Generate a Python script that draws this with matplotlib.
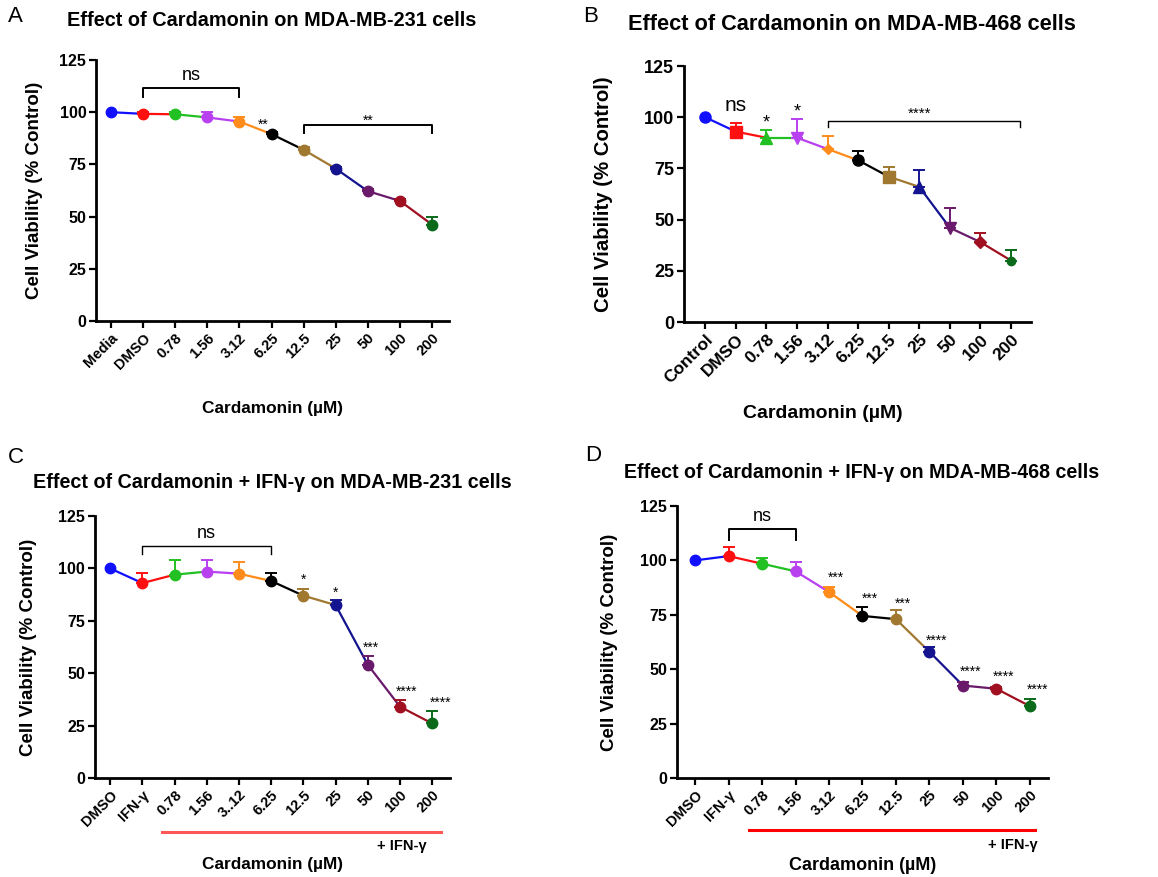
import numpy as np
import matplotlib

matplotlib.use("Agg")
import matplotlib.pyplot as plt

plt.rcParams["font.family"] = ["Liberation Sans", "DejaVu Sans"]

W, H = 1158, 877

# ---- colours shared by all panels (GraphPad style palette) ----
colors = ["#1010FF", "#FF1010", "#22C022", "#B840F0", "#FF8C1A", "#000000",
          "#A07830", "#141490", "#6A1A6A", "#A01020", "#0A6A1A"]

# ---- panel A ----
labels_a = ["Media", "DMSO", "0.78", "1.56", "3.12", "6.25", "12.5", "25", "50", "100", "200"]
mean_a = [100, 99.2, 99, 97.5, 95.5, 89.5, 82, 73, 62.2, 57.5, 46.2]
err_a = [0, 0.8, 1.0, 2.8, 2.2, 0.8, 1.2, 0.8, 0.8, 0.8, 3.8]
markers_a = ["o"] * 11

# ---- panel B ----
labels_b = ["Control", "DMSO", "0.78", "1.56", "3.12", "6.25", "12.5", "25", "50", "100", "200"]
mean_b = [100, 93, 90, 90, 84.5, 79, 71, 66, 46, 39, 30]
err_b = [0, 4, 4, 9, 6.5, 4.5, 4.5, 8, 9.5, 4.5, 5]
markers_b = ["o", "s", "^", "v", "D", "o", "s", "^", "v", "D", "o"]
msize_b = [8, 8, 8, 8, 5, 8, 8, 8, 8, 6, 6]

# ---- panel C ----
labels_c = ["DMSO", "IFN-γ", "0.78", "1.56", "3..12", "6.25", "12.5", "25", "50", "100", "200"]
mean_c = [100, 93, 97, 98.5, 97.5, 94, 87, 82.5, 54, 34, 26]
err_c = [0, 5, 7, 5.5, 5.5, 4, 3, 2.5, 4, 3, 6]
markers_c = ["o"] * 11

# ---- panel D ----
labels_d = ["DMSO", "IFN-γ", "0.78", "1.56", "3.12", "6.25", "12.5", "25", "50", "100", "200"]
mean_d = [100, 102, 98.5, 95, 85.5, 74.5, 73, 58, 42.5, 41, 33]
err_d = [0, 4, 2.5, 4.5, 2.5, 4, 4, 2, 1.5, 1, 3.5]
markers_d = ["o"] * 11


def draw_curve(ax, mean, err, markers, sizes=None):
    x = np.arange(len(mean))
    if sizes is None:
        sizes = [7.5] * len(mean)
    for i in range(len(mean) - 1):
        ax.plot(x[i:i + 2], mean[i:i + 2], color=colors[i], lw=1.6, zorder=2)
    for i in range(len(mean)):
        if err[i] > 0:
            ax.errorbar(x[i], mean[i], yerr=[[0], [err[i]]], color=colors[i],
                        capsize=4, elinewidth=1.4, capthick=1.4, fmt="none", zorder=3)
        ax.plot(x[i], mean[i], marker=markers[i], ms=sizes[i], color=colors[i],
                ls="none", zorder=4)


def style_axes(ax, labels, xlim, xfs=10.5, yfs=11.5, labfs=13.5):
    ax.set_ylim(0, 125)
    ax.set_xlim(*xlim)
    ax.set_yticks([0, 25, 50, 75, 100, 125])
    ax.set_xticks(np.arange(len(labels)))
    ax.set_xticklabels(labels, rotation=45, ha="right", rotation_mode="anchor",
                       fontsize=xfs, fontweight="bold")
    for lab in ax.get_yticklabels():
        lab.set_fontweight("bold")
        lab.set_fontsize(yfs)
    ax.spines["top"].set_visible(False)
    ax.spines["right"].set_visible(False)
    ax.spines["left"].set_linewidth(2)
    ax.spines["bottom"].set_linewidth(2)
    ax.tick_params(width=1.6, length=5, direction="out", pad=2)
    ax.set_ylabel("Cell Viability (% Control)", fontsize=labfs, fontweight="bold")


def bracket(ax, x0, x1, y, drop, lw=1.4):
    ax.plot([x0, x0, x1, x1], [y - drop, y, y, y - drop], color="black", lw=lw,
            clip_on=False)


def ftext(px, py, s, **kw):
    fig.text(px / W, 1 - py / H, s, ha="center", va="center", **kw)


fig = plt.figure(figsize=(11.58, 8.77), dpi=100)

# A
ax = fig.add_axes([0.0829, 0.634, 0.3048, 0.2976])
draw_curve(ax, mean_a, err_a, markers_a)
style_axes(ax, labels_a, (-0.47, 10.53))
bracket(ax, 1, 4, 111.4, 4)
ax.text(2.5, 113.5, "ns", ha="center", va="bottom", fontsize=13)
ax.text(4.75, 94, "**", ha="center", va="center", fontsize=10)
bracket(ax, 6, 10, 93.8, 4)
ax.text(8, 96, "**", ha="center", va="center", fontsize=10)
ax.yaxis.set_label_coords(-0.151, 0.5)
ftext(272, 21, "Effect of Cardamonin on MDA-MB-231 cells", fontsize=14.3, fontweight="bold")
ftext(272, 409, "Cardamonin (µM)", fontsize=12.4, fontweight="bold")

# B
ax = fig.add_axes([0.5907, 0.6328, 0.2996, 0.2919])
draw_curve(ax, mean_b, err_b, markers_b, msize_b)
style_axes(ax, labels_b, (-0.69, 10.65), xfs=12.5, yfs=13, labfs=14.7)
ax.text(1.0, 101, "ns", ha="center", va="bottom", fontsize=15)
ax.text(2.0, 97, "*", ha="center", va="center", fontsize=13)
ax.text(3.0, 102.5, "*", ha="center", va="center", fontsize=13)
bracket(ax, 4, 10.28, 98, 2.6, lw=1.0)
ax.text(7.0, 101.5, "****", ha="center", va="center", fontsize=11)
ax.yaxis.set_label_coords(-0.206, 0.5)
ftext(852, 25, "Effect of Cardamonin on MDA-MB-468 cells", fontsize=15.7, fontweight="bold")
ftext(823, 413, "Cardamonin (µM)", fontsize=14, fontweight="bold")

# C
ax = fig.add_axes([0.082, 0.1129, 0.3066, 0.2987])
draw_curve(ax, mean_c, err_c, markers_c)
style_axes(ax, labels_c, (-0.47, 10.55))
bracket(ax, 1, 5, 110.7, 3.7, lw=1.0)
ax.text(3, 112.5, "ns", ha="center", va="bottom", fontsize=13)
stars_c = {6: (94.5, "*"), 7: (88.5, "*"), 8: (62, "***"), 9: (41, "****"), 10: (36, "****")}
for i, (y, s) in stars_c.items():
    dx = 0.25 if i == 10 else 0.2 if i == 9 else 0.1 if i == 8 else 0.0
    ax.text(i + dx, y, s, ha="center", va="center", fontsize=10)
ax.plot([1.61, 10.28], [-0.206, -0.206], transform=ax.get_xaxis_transform(),
        color="#FF5555", lw=2.2, clip_on=False)
ax.yaxis.set_label_coords(-0.164, 0.5)
ftext(402, 846, "+ IFN-γ", fontsize=10.5, fontweight="bold")
ftext(272, 482, "Effect of Cardamonin + IFN-γ on MDA-MB-231 cells", fontsize=14.2,
      fontweight="bold")
ftext(272, 865, "Cardamonin (µM)", fontsize=12.4, fontweight="bold")

# D
ax = fig.add_axes([0.5846, 0.1129, 0.3204, 0.3101])
draw_curve(ax, mean_d, err_d, markers_d)
style_axes(ax, labels_d, (-0.54, 10.54))
bracket(ax, 1, 3, 114.6, 5.3)
ax.text(2, 116.5, "ns", ha="center", va="bottom", fontsize=13)
stars_d = {4: (92, "***"), 5: (82.5, "***"), 6: (80, "***"), 7: (63, "****"),
           8: (48.6, "****"), 9: (46.3, "****"), 10: (40.5, "****")}
for i, (y, s) in stars_d.items():
    ax.text(i + 0.22, y, s, ha="center", va="center", fontsize=10)
ax.plot([1.61, 10.15], [-0.191, -0.191], transform=ax.get_xaxis_transform(),
        color="#FF0000", lw=2.2, clip_on=False)
ax.yaxis.set_label_coords(-0.159, 0.5)
ftext(1013, 845, "+ IFN-γ", fontsize=10.5, fontweight="bold")
ftext(862, 472, "Effect of Cardamonin + IFN-γ on MDA-MB-468 cells", fontsize=14.1,
      fontweight="bold")
ftext(863, 865, "Cardamonin (µM)", fontsize=13, fontweight="bold")

# panel letters
for lx, ly, letter in [(8, 17, "A"), (583, 17, "B"), (8, 457, "C"), (585, 455, "D")]:
    fig.text(lx / W, 1 - ly / H, letter, fontsize=16, ha="left", va="center")

fig.savefig("out.png", dpi=100)
plt.close(fig)
